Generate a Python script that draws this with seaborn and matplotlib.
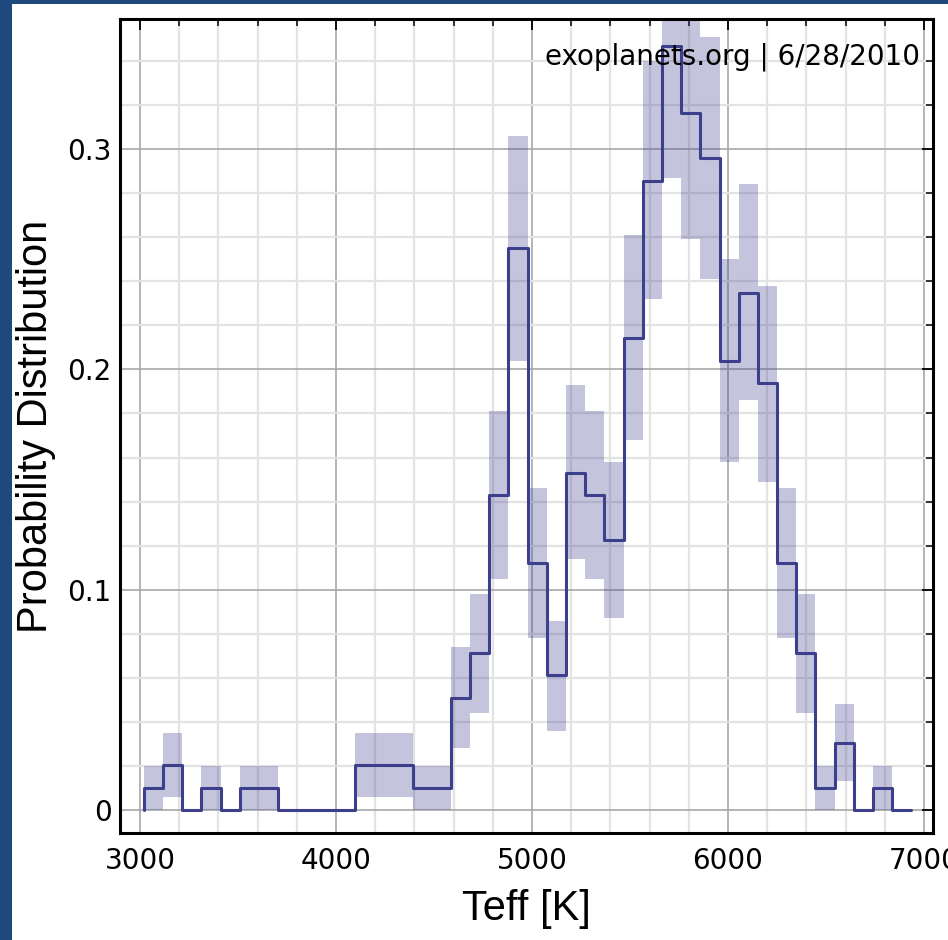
# Teff distribution of exoplanet host stars (exoplanets.org style)
import numpy as np
import matplotlib
matplotlib.use('Agg')
import matplotlib.pyplot as plt
from matplotlib import ticker
from matplotlib.patches import Rectangle
import seaborn as sns

# Histogram bins: 40 bins between the lowest and highest Teff
teff_min = 3020
teff_max = 6936
n_bins = 40

# Probability per bin
prob = [0.0102, 0.0204, 0.0, 0.0102, 0.0, 0.0102, 0.0102, 0.0, 0.0, 0.0,
        0.0, 0.0204, 0.0204, 0.0204, 0.0102, 0.0102, 0.0510, 0.0714, 0.1428, 0.2550,
        0.1122, 0.0612, 0.1530, 0.1428, 0.1224, 0.2142, 0.2856, 0.3468, 0.3162, 0.2958,
        0.2040, 0.2346, 0.1938, 0.1122, 0.0714, 0.0102, 0.0306, 0.0, 0.0102, 0.0]

# Lower and upper edge of the shaded uncertainty band per bin
band_lo = [0.000, 0.006, 0.0, 0.000, 0.0, 0.000, 0.000, 0.0, 0.0, 0.0,
           0.0, 0.006, 0.006, 0.006, 0.000, 0.000, 0.028, 0.044, 0.105, 0.204,
           0.078, 0.036, 0.114, 0.105, 0.087, 0.168, 0.232, 0.287, 0.259, 0.241,
           0.158, 0.186, 0.149, 0.078, 0.044, 0.000, 0.013, 0.0, 0.000, 0.0]
band_hi = [0.020, 0.035, 0.0, 0.020, 0.0, 0.020, 0.020, 0.0, 0.0, 0.0,
           0.0, 0.035, 0.035, 0.035, 0.020, 0.020, 0.074, 0.098, 0.181, 0.306,
           0.146, 0.086, 0.193, 0.181, 0.158, 0.261, 0.340, 0.406, 0.373, 0.351,
           0.250, 0.284, 0.238, 0.146, 0.098, 0.020, 0.048, 0.0, 0.020, 0.0]

x_ticks = [3000, 4000, 5000, 6000, 7000]
y_ticks = [0, 0.1, 0.2, 0.3]
note = 'exoplanets.org | 6/28/2010'

line_color = '#3c408c'
frame_blue = '#1f497d'

sns.set_style('white')
plt.rcParams['font.family'] = ['DejaVu Sans']

edges = np.linspace(teff_min, teff_max, n_bins + 1)
centers = (edges[:-1] + edges[1:]) / 2
width = edges[1] - edges[0]

fig = plt.figure(figsize=(9.48, 9.40), dpi=100)
fig.patch.set_facecolor(frame_blue)
# white panel inside the blue frame
fig.add_artist(Rectangle((12 / 948, 0), 1, 1 - 4 / 940, transform=fig.transFigure,
                         facecolor='white', edgecolor='none', zorder=-10))
ax = fig.add_axes([120 / 948, 1 - 833 / 940, 813 / 948, 814 / 940])
ax.set_facecolor('white')

# shaded uncertainty bands
lo = np.array(band_lo)
hi = np.array(band_hi)
ax.bar(centers, hi - lo, bottom=lo, width=width, color=line_color, alpha=0.3,
       linewidth=0, zorder=2)

# step outline of the histogram
step_x = edges
step_y = np.concatenate([[0.0], prob])
sns.lineplot(x=step_x, y=step_y, ax=ax, drawstyle='steps-pre', color=line_color,
             linewidth=2.2, zorder=3)

ax.set_xlim(2898, 7046)
ax.set_ylim(-0.0104, 0.359)

ax.xaxis.set_major_locator(ticker.FixedLocator(x_ticks))
ax.xaxis.set_minor_locator(ticker.MultipleLocator(200))
ax.yaxis.set_major_locator(ticker.FixedLocator(y_ticks))
ax.yaxis.set_major_formatter(ticker.FormatStrFormatter('%g'))
ax.yaxis.set_minor_locator(ticker.MultipleLocator(0.02))

ax.grid(which='minor', color='#e3e3e3', linewidth=1.6)
ax.grid(which='major', color='#a8a8a8', linewidth=1.2)
ax.set_axisbelow(True)

ax.tick_params(which='both', direction='in', top=True, right=True, colors='black',
               labelsize=20)
ax.tick_params(which='major', length=8, width=1.3)
ax.tick_params(which='minor', length=5, width=1.1)
ax.tick_params(axis='x', pad=10)
ax.tick_params(axis='y', pad=6)

for s in ax.spines.values():
    s.set_color('black')
    s.set_linewidth(2.2)

ax.set_xlabel('Teff [K]', family='Liberation Sans', fontsize=30, labelpad=10,
              color='black')
ax.set_ylabel('Probability Distribution', family='Liberation Sans', fontsize=30,
              labelpad=8, color='black')

ax.text(0.984, 0.9435, note, transform=ax.transAxes, ha='right', va='baseline',
        fontsize=20, color='black', zorder=4)

fig.savefig('out.png', dpi=100, facecolor=fig.get_facecolor())
